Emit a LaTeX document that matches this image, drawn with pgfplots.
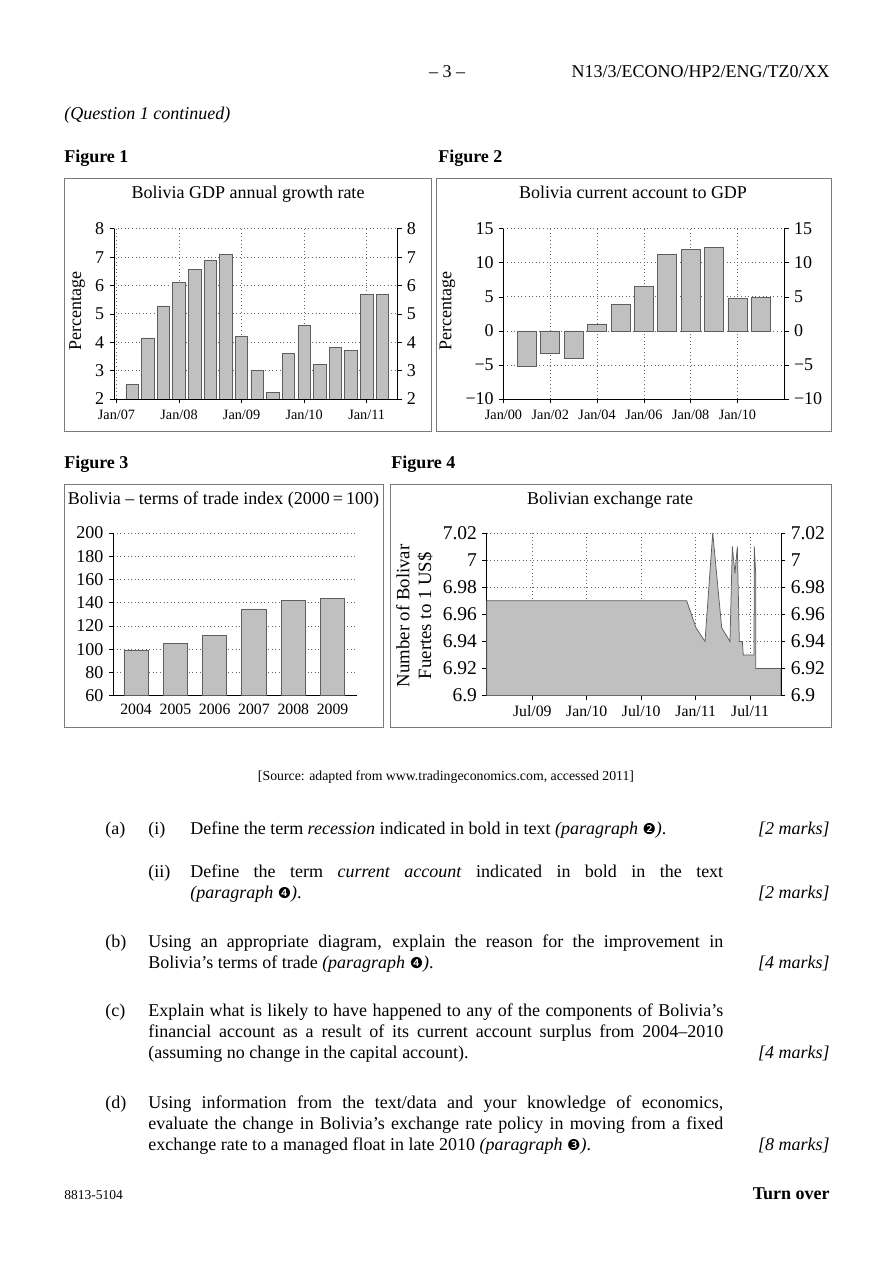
\documentclass[border=0pt]{standalone}
\usepackage{fontspec}
\setmainfont{Liberation Serif}
\newfontfamily\dejavu{DejaVu Sans}
\usepackage{pgfplots}
\pgfplotsset{compat=1.18}
\definecolor{barfill}{HTML}{C0C0C0}
\definecolor{baredge}{HTML}{5E5E5E}
\definecolor{framegray}{HTML}{7A7A7A}
\newcommand{\fs}[1]{\fontsize{#1}{#1}\selectfont}
\newcommand{\cn}[1]{{\dejavu\fontsize{10}{10}\selectfont #1}}
\pgfplotsset{
  myaxis/.style={scale only axis, anchor=south west,
    axis line style={black, line width=0.5pt},
    tick style={black, line width=0.4pt},
    major tick length=3pt, tick align=outside,
    grid style={dotted, black!60, line width=0.5pt},
    tick label style={black},
    x tick label style={text height=0.72em, text depth=0.2em},
  },
}
\begin{document}
\begin{tikzpicture}
\begin{scope}[x=0.6667pt,y=-0.6667pt]
\path[use as bounding box, fill=white] (0,0) rectangle (893,1263);
% header
\node[anchor=base, inner sep=0] at (447,77) {\fs{12}– 3 –};
\node[anchor=base east, inner sep=0] at (830,77) {\fs{12}N13/3/ECONO/HP2/ENG/TZ0/XX};
\node[anchor=base west, inner sep=0] at (64,119) {\fs{12}\textit{(Question 1 continued)}};
\node[anchor=base west, inner sep=0] at (64,162) {\fs{12}\textbf{Figure 1}};
\node[anchor=base west, inner sep=0] at (438,162) {\fs{12}\textbf{Figure 2}};
\node[anchor=base west, inner sep=0] at (64,468) {\fs{12}\textbf{Figure 3}};
\node[anchor=base west, inner sep=0] at (391,468) {\fs{12}\textbf{Figure 4}};
% frames
\draw[framegray, line width=0.6pt] (64,178) rectangle (431,431);
\draw[framegray, line width=0.6pt] (436,178) rectangle (831,431);
\draw[framegray, line width=0.6pt] (64,484) rectangle (383,727);
\draw[framegray, line width=0.6pt] (390,484) rectangle (831,727);
% chart titles
\node[anchor=base, inner sep=0] at (248,198) {\fs{12}Bolivia GDP annual growth rate};
\node[anchor=base, inner sep=0] at (633,198) {\fs{12}Bolivia current account to GDP};
\node[anchor=base, inner sep=0] at (223.5,504) {\fs{12}Bolivia – terms of trade index (2000\,=\,100)};
\node[anchor=base, inner sep=0] at (610,504) {\fs{12}Bolivian exchange rate};
% source
\node[anchor=base, inner sep=0] at (446,780) {\fs{9.2}[Source: adapted from www.tradingeconomics.com, accessed 2011]};
% questions
\node[anchor=base west, inner sep=0] at (105,834) {\fs{12}(a)};
\node[anchor=base west, inner sep=0] at (148,834) {\fs{12}(i)};
\node[anchor=base west, inner sep=0] at (190,834) {\fs{12}Define the term \textit{recession} indicated in bold in text \textit{(paragraph \cn{❷})}.};
\node[anchor=base east, inner sep=0] at (830,834) {\fs{12}\textit{[2 marks]}};
\node[anchor=base west, inner sep=0] at (148,877) {\fs{12}(ii)};
\node[anchor=base west, inner sep=0] at (190,877) {\parbox[t]{355.3pt}{\fontsize{12}{14}\selectfont Define the term \textit{current account} indicated in bold in the text\linebreak \textit{(paragraph \cn{❹})}.}};
\node[anchor=base east, inner sep=0] at (830,898) {\fs{12}\textit{[2 marks]}};
\node[anchor=base west, inner sep=0] at (105,947) {\fs{12}(b)};
\node[anchor=base west, inner sep=0] at (148,947) {\parbox[t]{383.3pt}{\fontsize{12}{14}\selectfont Using an appropriate diagram, explain the reason for the improvement in\linebreak Bolivia’s terms of trade \textit{(paragraph \cn{❹})}.}};
\node[anchor=base east, inner sep=0] at (830,968) {\fs{12}\textit{[4 marks]}};
\node[anchor=base west, inner sep=0] at (105,1016) {\fs{12}(c)};
\node[anchor=base west, inner sep=0] at (148,1016) {\parbox[t]{383.3pt}{\fontsize{12}{14}\selectfont Explain what is likely to have happened to any of the components of Bolivia’s\linebreak financial account as a result of its current account surplus from 2004–2010\linebreak (assuming no change in the capital account).}};
\node[anchor=base east, inner sep=0] at (830,1058) {\fs{12}\textit{[4 marks]}};
\node[anchor=base west, inner sep=0] at (105,1108) {\fs{12}(d)};
\node[anchor=base west, inner sep=0] at (148,1108) {\parbox[t]{383.3pt}{\fontsize{12}{14}\selectfont Using information from the text/data and your knowledge of economics,\linebreak evaluate the change in Bolivia’s exchange rate policy in moving from a fixed\linebreak exchange rate to a managed float in late 2010 \textit{(paragraph \cn{❸})}.}};
\node[anchor=base east, inner sep=0] at (830,1150) {\fs{12}\textit{[8 marks]}};
% footer
\node[anchor=base west, inner sep=0] at (64,1199) {\fs{9}8813-5104};
\node[anchor=base east, inner sep=0] at (830,1199) {\fs{12}\textbf{Turn over}};
\end{scope}

% ---------- Figure 1 ----------
\begin{axis}[myaxis, at={(76pt,-266pt)}, width=188.7pt, height=113.5pt,
  xmin=2006.96, xmax=2011.485, ymin=2, ymax=8,
  axis x line*=bottom, axis y line*=left,
  xtick={2007,2008,2009,2010,2011}, xticklabels={Jan/07,Jan/08,Jan/09,Jan/10,Jan/11},
  ytick={2,3,4,5,6,7,8}, yticklabels={2,3,4,5,6,7,8},
  xmajorgrids, ymajorgrids,
  ylabel={Percentage}, ylabel style={font=\fs{12}, xshift=2pt},
  x tick label style={font=\fs{9.5}}, y tick label style={font=\fs{12}},
  ybar, bar width=0.2,
]
\addplot[fill=barfill, draw=baredge, line width=0.5pt] coordinates {
 (2007.25,2.5) (2007.5,4.15) (2007.75,5.28) (2008,6.1) (2008.25,6.57) (2008.5,6.88)
 (2008.75,7.08) (2009,4.2) (2009.25,3.02) (2009.5,2.22) (2009.75,3.62) (2010,4.58)
 (2010.25,3.22) (2010.5,3.82) (2010.75,3.72) (2011,5.7) (2011.25,5.7)};
\end{axis}
\begin{axis}[myaxis, at={(76pt,-266pt)}, width=188.7pt, height=113.5pt,
  xmin=2006.96, xmax=2011.485, ymin=2, ymax=8,
  axis y line*=right, axis x line=none,
  ytick={2,3,4,5,6,7,8}, yticklabels={2,3,4,5,6,7,8},
  y tick label style={font=\fs{12}},
]
\addplot[draw=none] coordinates {(2008,3)};
\end{axis}

% ---------- Figure 2 ----------
\begin{axis}[myaxis, at={(335.67pt,-266pt)}, width=187.2pt, height=113.5pt,
  xmin=2000, xmax=2012, ymin=-10, ymax=15,
  axis x line*=bottom, axis y line*=left,
  xtick={2000,2002,2004,2006,2008,2010}, xticklabels={Jan/00,Jan/02,Jan/04,Jan/06,Jan/08,Jan/10},
  ytick={-10,-5,0,5,10,15}, yticklabels={−10,−5,0,5,10,15},
  xmajorgrids, ymajorgrids,
  ylabel={Percentage}, ylabel style={font=\fs{12}, xshift=2pt},
  x tick label style={font=\fs{9.5}}, y tick label style={font=\fs{12}},
  ybar, bar width=0.81,
]
\addplot[fill=barfill, draw=baredge, line width=0.5pt] coordinates {
 (2001,-5.25) (2002,-3.3) (2003,-4.07) (2004,1.03) (2005,3.87) (2006,6.57)
 (2007,11.2) (2008,12.0) (2009,12.25) (2010,4.8) (2011,4.95)};
\end{axis}
\begin{axis}[myaxis, at={(335.67pt,-266pt)}, width=187.2pt, height=113.5pt,
  xmin=2000, xmax=2012, ymin=-10, ymax=15,
  axis y line*=right, axis x line=none,
  ytick={-10,-5,0,5,10,15}, yticklabels={−10,−5,0,5,10,15},
  y tick label style={font=\fs{12}},
]
\addplot[draw=none] coordinates {(2005,0)};
\end{axis}

% ---------- Figure 3 ----------
\begin{axis}[myaxis, at={(75.53pt,-463.8pt)}, width=162.7pt, height=108.5pt,
  xmin=-0.58, xmax=5.63, ymin=60, ymax=200,
  axis x line*=bottom, axis y line*=left,
  xtick={0,1,2,3,4,5}, xticklabels={2004,2005,2006,2007,2008,2009},
  major x tick style={draw=none},
  ytick={60,80,100,120,140,160,180,200},
  yticklabels={60,80,100,120,140,160,180,200},
  ymajorgrids,
  x tick label style={font=\fs{10.5}, yshift=1.5pt}, y tick label style={font=\fs{12}},
  ybar, bar width=0.62,
]
\addplot[fill=barfill, draw=baredge, line width=0.5pt] coordinates {
 (0,98.7) (1,105) (2,112) (3,134.6) (4,142) (5,143.8)};
\end{axis}

% ---------- Figure 4 ----------
\begin{axis}[myaxis, at={(324.47pt,-463.8pt)}, width=196.2pt, height=108.5pt,
  xmin=0.97, xmax=33.4, ymin=6.9, ymax=7.02,
  axis x line*=bottom, axis y line*=left,
  xtick={6,12,18,24,30}, xticklabels={Jul/09,Jan/10,Jul/10,Jan/11,Jul/11},
  ytick={6.9,6.92,6.94,6.96,6.98,7,7.02},
  yticklabels={6.9,6.92,6.94,6.96,6.98,7,7.02},
  xmajorgrids, ymajorgrids,
  ylabel={Number of Bolivar\\Fuertes to 1 US\$}, ylabel style={font=\fontsize{12.5}{14.5}\selectfont, align=center, xshift=-1pt},
  x tick label style={font=\fs{10.5}}, y tick label style={font=\fs{13}},
]
\addplot[fill=barfill, draw=baredge, line width=0.5pt] coordinates {
 (0.97,6.97) (23.01,6.97) (24.04,6.95) (25.03,6.94) (25.88,7.02) (26.87,6.95)
 (27.78,6.94) (28.04,7.01) (28.33,6.99) (28.59,7.01) (28.81,6.94) (29.14,6.94)
 (29.25,6.93) (30.43,6.93) (30.46,7.01) (30.61,6.99) (30.62,6.92) (33.4,6.92)} \closedcycle;
\end{axis}
\begin{axis}[myaxis, at={(324.47pt,-463.8pt)}, width=196.2pt, height=108.5pt,
  xmin=0.97, xmax=33.4, ymin=6.9, ymax=7.02,
  axis y line*=right, axis x line=none,
  ytick={6.9,6.92,6.94,6.96,6.98,7,7.02},
  yticklabels={6.9,6.92,6.94,6.96,6.98,7,7.02},
  y tick label style={font=\fs{13}},
]
\addplot[draw=none] coordinates {(10,6.95)};
\end{axis}
\end{tikzpicture}
\end{document}
